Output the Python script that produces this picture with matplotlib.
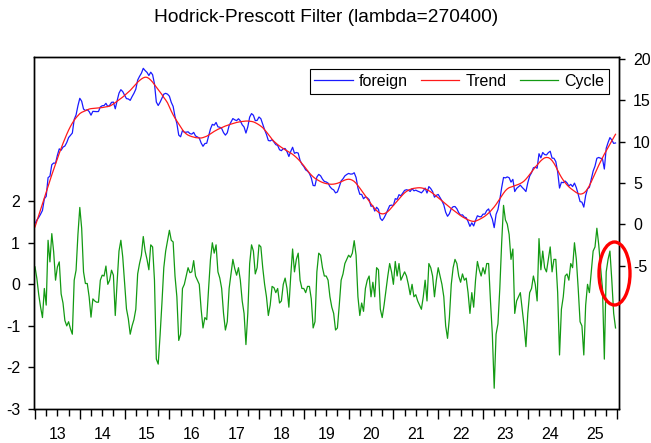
import numpy as np
import matplotlib
matplotlib.use('Agg')
import matplotlib.pyplot as plt
from matplotlib.patches import Ellipse

plt.rcParams['font.family'] = ['Liberation Sans', 'DejaVu Sans']
plt.rcParams['axes.unicode_minus'] = False

# two readings per month, Jan 2013 .. Dec 2025
start_year = 2013
per_year = 24
years = list(range(2013, 2026))
year_labels = ['13', '14', '15', '16', '17', '18', '19', '20', '21', '22', '23', '24', '25']
series_names = ['foreign', 'Trend', 'Cycle']

# HP trend (right axis)
trend = [
    -0.3, 0.4, 1.1, 1.8, 2.5, 3.2, 3.9, 4.6, 5.3, 6.0, 6.65, 7.3, 7.95, 8.6, 9.2, 9.8, 10.35, 10.9, 11.4, 11.85, 12.25, 12.6, 12.9, 13.15,
    13.4, 13.55, 13.65, 13.75, 13.85, 13.95, 14.0, 14.02, 14.05, 14.07, 14.08, 14.1, 14.13, 14.17, 14.2, 14.25, 14.3, 14.42, 14.57, 14.73, 14.9, 15.07, 15.23, 15.4,
    15.6, 15.8, 16.0, 16.2, 16.45, 16.7, 16.95, 17.2, 17.4, 17.58, 17.72, 17.8, 17.78, 17.65, 17.45, 17.2, 16.9, 16.6, 16.3, 16.0, 15.7, 15.35, 15.05, 14.7,
    14.2, 13.7, 13.25, 12.85, 12.5, 12.15, 11.8, 11.45, 11.15, 10.95, 10.8, 10.7, 10.62, 10.56, 10.5, 10.47, 10.45, 10.45, 10.5, 10.58, 10.67, 10.8, 10.95, 11.1,
    11.25, 11.38, 11.5, 11.6, 11.7, 11.8, 11.9, 11.98, 12.06, 12.13, 12.2, 12.27, 12.33, 12.38, 12.42, 12.45, 12.48, 12.5, 12.5, 12.48, 12.45, 12.4, 12.3, 12.18,
    12.04, 11.88, 11.7, 11.45, 11.18, 10.9, 10.6, 10.3, 10.05, 9.85, 9.65, 9.48, 9.32, 9.17, 9.03, 8.9, 8.77, 8.63, 8.48, 8.3, 8.1, 7.88, 7.64, 7.38,
    7.1, 6.8, 6.5, 6.22, 5.98, 5.76, 5.58, 5.43, 5.3, 5.18, 5.08, 5.0, 4.94, 4.9, 4.87, 4.86, 4.88, 4.92, 4.98, 5.06, 5.16, 5.27, 5.37, 5.44,
    5.47, 5.44, 5.35, 5.2, 4.98, 4.7, 4.4, 4.08, 3.76, 3.44, 3.12, 2.8, 2.5, 2.2, 1.92, 1.68, 1.48, 1.34, 1.28, 1.3, 1.4, 1.56, 1.78, 2.04,
    2.3, 2.57, 2.84, 3.1, 3.36, 3.6, 3.82, 4.0, 4.14, 4.24, 4.32, 4.37, 4.4, 4.43, 4.44, 4.42, 4.37, 4.3, 4.2, 4.08, 3.94, 3.78, 3.6, 3.42,
    3.23, 3.05, 2.86, 2.67, 2.48, 2.29, 2.1, 1.92, 1.75, 1.57, 1.4, 1.23, 1.07, 0.92, 0.79, 0.67, 0.56, 0.47, 0.4, 0.37, 0.4, 0.5, 0.6, 0.72,
    0.85, 1.0, 1.18, 1.38, 1.6, 1.85, 2.12, 2.42, 2.75, 3.1, 3.45, 3.78, 4.08, 4.3, 4.45, 4.52, 4.6, 4.68, 4.76, 4.85, 4.95, 5.08, 5.25, 5.48,
    5.75, 6.05, 6.35, 6.65, 6.93, 7.2, 7.45, 7.7, 7.9, 8.05, 8.1, 8.08, 7.95, 7.72, 7.4, 7.0, 6.55, 6.1, 5.7, 5.35, 5.05, 4.78, 4.55, 4.35,
    4.18, 4.0, 3.85, 3.74, 3.67, 3.7, 3.8, 4.0, 4.3, 4.7, 5.15, 5.65, 6.15, 6.65, 7.15, 7.6, 8.05, 8.5, 8.9, 9.3, 9.7, 10.1, 10.5, 10.9,
]

# cycle = foreign - trend (left axis)
cycle = [
    0.42, 0.14, -0.25, -0.55, -0.8, -0.1, -0.5, 1.06, 0.54, 1.22, 0.78, 0.1, 0.42, 0.54, -0.23, -0.45, -0.87, -1.0, -0.9, -1.07, -1.2, 0.1, 0.34, 1.2,
    1.85, 1.35, 0.3, 0.02, 0.02, -0.3, -0.79, -0.35, -0.4, -0.43, -0.43, 0.1, 0.22, 0.2, 0.44, 0.0, 0.1, 0.34, 0.22, -0.75, 0.06, 0.8, 1.06, 0.66,
    0.02, -0.59, -0.83, -1.2, -1.0, -0.85, -0.6, 0.25, 0.5, 0.7, 1.15, 0.8, 0.6, 0.35, 0.95, 0.9, 0.1, -1.8, -1.92, -1.23, -0.45, 0.4, 0.8, 1.05,
    1.3, 1.06, 1.02, 0.2, -0.3, -1.35, -1.2, -0.1, 0.0, 0.2, 0.4, 0.28, 0.3, 0.57, 0.2, 0.1, 0.0, -0.6, -1.05, -0.8, -0.85, -0.1, 0.6, 1.0,
    0.75, 0.95, 0.3, 0.15, -0.1, -0.7, -1.1, -0.9, -0.1, 0.25, 0.6, 0.38, 0.22, 0.4, 0.1, -0.4, -0.7, -1.45, -0.7, 0.5, 0.95, 0.8, 0.25, 0.4,
    0.95, 0.9, 0.4, 0.0, -0.3, -0.75, -0.5, -0.05, -0.08, -0.2, -0.1, -0.45, -0.4, 0.0, 0.15, -0.1, -0.55, 0.2, 0.85, 0.3, 0.6, 0.75, 0.1, -0.1,
    -0.1, -0.2, -0.05, -0.05, -0.35, -1.05, -0.9, 0.3, 0.75, 0.7, 0.4, 0.2, 0.2, 0.1, -0.3, -0.55, -0.7, -1.1, -1.05, -0.5, 0.1, 0.25, 0.5, 0.6,
    0.7, 0.65, 0.75, 1.05, 0.7, -0.3, -0.75, -0.45, -0.65, -0.1, 0.1, 0.2, -0.3, 0.05, -0.3, 0.4, 0.35, -0.6, -0.8, -0.5, -0.15, 0.2, 0.5, 0.3,
    0.0, 0.55, 0.2, 0.5, 0.1, 0.2, 0.3, 0.2, 0.0, -0.25, 0.0, -0.3, -0.25, -0.4, -0.5, -0.6, -0.3, 0.1, -0.4, 0.5, 0.4, 0.2, -0.3, 0.1,
    0.4, 0.2, 0.0, -0.3, -1.0, -1.3, -0.8, 0.0, 0.4, 0.6, 0.5, 0.2, 0.05, 0.25, 0.1, 0.15, -0.2, -0.7, -0.2, -0.55, 0.1, 0.55, 0.35, 0.2,
    0.4, 0.25, 0.5, 0.5, -0.4, -1.2, -2.5, -1.2, -0.95, -0.1, 1.0, 1.9, 1.55, 1.45, 1.2, 0.6, 0.85, -0.7, -0.4, -0.3, -0.2, -0.6, -1.0, -1.5,
    -0.7, -0.2, -0.1, 0.2, 0.0, -0.4, 1.1, 0.35, 0.8, 0.4, 0.3, 0.6, 0.9, 0.3, 0.6, 0.6, -0.2, -1.7, -0.6, -0.3, 0.2, 0.25, 0.1, 0.5,
    0.4, 1.0, 0.6, -0.1, -0.9, -1.0, -1.7, -0.5, 0.0, -0.2, 0.3, 0.8, 0.9, 1.35, 0.95, 0.4, -0.1, -1.8, 0.3, 0.6, 0.8, 0.1, -0.7, -1.05,
]

t = start_year + np.arange(len(cycle)) / per_year
foreign = np.array(trend) + np.array(cycle)

fig = plt.figure(figsize=(6.51, 4.43), dpi=100)
ax = fig.add_axes([34 / 651, 1 - 409 / 443, 585 / 651, 352 / 443])
ax2 = ax.twinx()

l3, = ax.plot(t, cycle, color='#139a13', lw=0.9)
l1, = ax2.plot(t, foreign, color='#1a1aff', lw=0.9)
l2, = ax2.plot(t, trend, color='#ff1a1a', lw=0.9)

ax.set_xlim(2013 - 1 / 44.8, 2013 - 1 / 44.8 + 585 / 44.8)
ax.set_ylim(-3, 5.47)
ax.set_yticks(range(-3, 3))
ax2.set_ylim(-22.3, 20.24)
ax2.set_yticks([-5, 0, 5, 10, 15, 20])

# year ticks long, quarter ticks short, labels in the middle of each year
ax.set_xticks(years + [2026])
ax.set_xticks([y + q / 4 for y in years for q in (1, 2, 3)], minor=True)
ax.tick_params(axis='x', which='major', length=7.2, width=1, labelbottom=False)
ax.tick_params(axis='x', which='minor', length=4.7, width=1)
sec = ax.secondary_xaxis('bottom')
sec.set_xticks([y + 0.5 for y in years], labels=year_labels)
sec.tick_params(length=0, pad=13, labelsize=11.5)
sec.spines['bottom'].set_visible(False)

ax.tick_params(axis='y', length=4, width=1, pad=6, labelsize=11.5)
ax2.tick_params(axis='y', length=4, width=1, pad=6, labelsize=11.5)
for a in (ax, ax2):
    for s in a.spines.values():
        s.set_linewidth(1.0)

leg = ax2.legend([l1, l2, l3], series_names, loc='upper right', bbox_to_anchor=(0.983, 0.966),
                 borderaxespad=0, ncol=3, fontsize=11.5, handlelength=2.4, handletextpad=0.4,
                 columnspacing=0.8, borderpad=0.3, fancybox=False, framealpha=1, edgecolor='black')
leg.get_frame().set_linewidth(0.8)

fig.text(326 / 651, 1 - 18 / 443, 'Hodrick-Prescott Filter (lambda=270400)', ha='center', va='center', fontsize=13.8)

fig.add_artist(Ellipse((614.5 / 651, 1 - 273.5 / 443), 31 / 651, 63 / 443, transform=fig.transFigure,
                       fill=False, edgecolor='red', lw=2.4, zorder=10))

fig.savefig('out.png', dpi=100)
